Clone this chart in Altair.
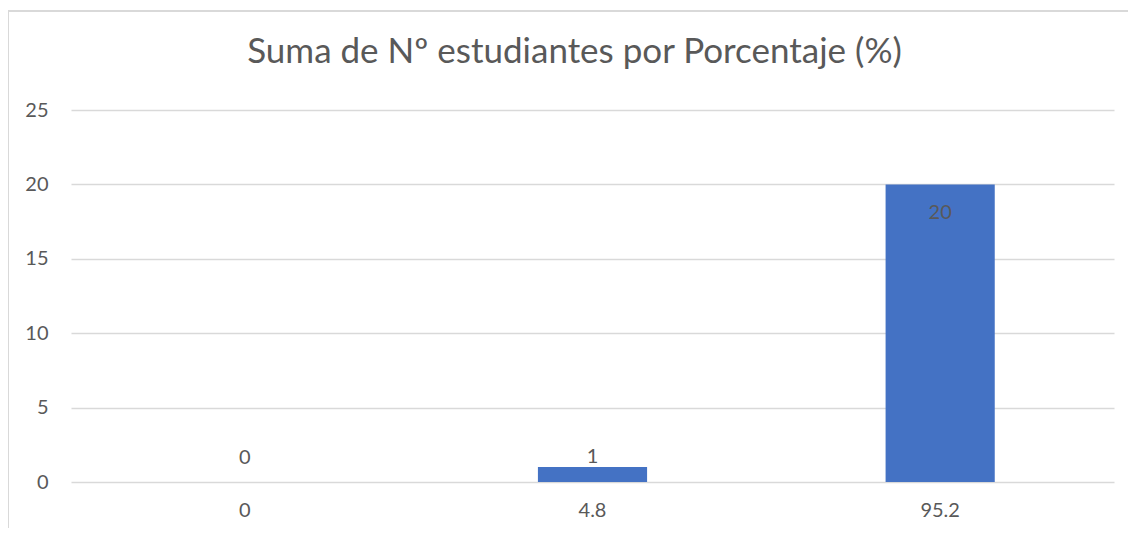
import altair as alt
import pandas as pd

categorias = ["0", "4.8", "95.2"]
estudiantes = [0, 1, 20]
y_ticks = [0, 5, 10, 15, 20, 25]

df = pd.DataFrame({"pct": categorias, "n": estudiantes})

FONT = "Lato"
GRAY = "#595959"
W, H = 1043, 372

base = alt.Chart(df)

x_enc = alt.X("pct:N", sort=categorias, title=None,
              scale=alt.Scale(paddingInner=0.686, paddingOuter=0.343),
              axis=alt.Axis(labelAngle=0, labelFontSize=20, labelFont=FONT,
                            labelColor=GRAY, ticks=False, domain=False,
                            labelPadding=18, grid=False))
y_enc = alt.Y("n:Q", title=None,
              scale=alt.Scale(domain=[0, 25], nice=False),
              axis=alt.Axis(values=y_ticks, labelFontSize=20, labelFont=FONT,
                            labelColor=GRAY, ticks=False, domain=False,
                            labelPadding=23, gridColor="#d9d9d9", gridWidth=1.3))

border_top = base.mark_rule(stroke="#d9d9d9", strokeWidth=1.5).encode(
    x=alt.value(-63), x2=alt.value(W + 100), y=alt.value(-99)
)
border_left = base.mark_rule(stroke="#d9d9d9", strokeWidth=1.5).encode(
    x=alt.value(-63), y=alt.value(-99), y2=alt.value(H + 100)
)

bars = base.mark_bar(color="#4472C4").encode(x=x_enc, y=y_enc)

lab_in = base.transform_filter("datum.n >= 5").mark_text(
    font=FONT, fontSize=20, color=GRAY, baseline="middle", dy=29
).encode(x=alt.X("pct:N", sort=categorias), y="n:Q", text="n:Q")

lab_small = base.transform_filter("datum.n >= 1 && datum.n < 5").mark_text(
    font=FONT, fontSize=20, color=GRAY, baseline="middle", dy=-10
).encode(x=alt.X("pct:N", sort=categorias), y="n:Q", text="n:Q")

lab_zero = base.transform_filter("datum.n < 1").mark_text(
    font=FONT, fontSize=20, color=GRAY, baseline="middle", dy=-24
).encode(x=alt.X("pct:N", sort=categorias), y="n:Q", text="n:Q")

chart = alt.layer(border_top, border_left, bars, lab_in, lab_small, lab_zero).properties(
    width=W, height=H,
    title=alt.TitleParams("Suma de Nº estudiantes por Porcentaje (%)", font=FONT,
                          fontSize=35, fontWeight="normal", color=GRAY,
                          anchor="middle", frame="group", offset=0,
                          baseline="alphabetic", dy=88, dx=-18),
    autosize=alt.AutoSizeParams(type="none"),
    padding={"left": 63, "top": 102, "right": 14, "bottom": 46},
).configure(background="white").configure_view(stroke=None)

chart.save("out.html", embed_options={"renderer": "svg", "actions": False})
